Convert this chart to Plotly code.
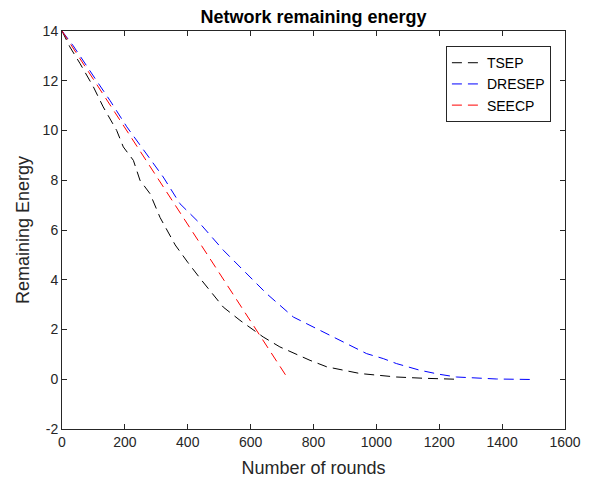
import plotly.graph_objects as go

tsep_x = [0, 25, 57, 100, 131, 174, 195, 227, 248, 280, 312, 360, 400, 444, 513, 566, 640, 693, 789, 842, 948, 1064, 1150, 1255]
tsep_y = [14, 13.36, 12.7, 11.75, 10.95, 10.0, 9.34, 8.8, 8.0, 7.46, 6.5, 5.4, 4.7, 3.98, 2.9, 2.37, 1.7, 1.3, 0.76, 0.5, 0.23, 0.09, 0.04, 0.0]

dresep_x = [0, 36, 110, 153, 206, 269, 322, 375, 417, 439, 513, 577, 651, 736, 842, 969, 1022, 1064, 1139, 1200, 1255, 1320, 1383, 1440, 1498]
dresep_y = [14, 13.4, 12.0, 11.2, 10.15, 9.07, 8.13, 7.06, 6.52, 6.26, 5.19, 4.38, 3.44, 2.5, 1.83, 1.03, 0.83, 0.63, 0.36, 0.2, 0.09, 0.04, 0.01, 0.0, -0.01]

seecp_x = [0, 720]
seecp_y = [14, 0]

x_ticks = [0, 200, 400, 600, 800, 1000, 1200, 1400, 1600]
y_ticks = [-2, 0, 2, 4, 6, 8, 10, 12, 14]
y_tick_text = ["-2", "0", "2", "4", "6", "8", "10", "12", "14"]

fig = go.Figure()
dash = "10px,6px"
fig.add_trace(go.Scatter(x=tsep_x, y=tsep_y, mode="lines", name="TSEP",
                         line=dict(color="black", width=1, dash=dash)))
fig.add_trace(go.Scatter(x=dresep_x, y=dresep_y, mode="lines", name="DRESEP",
                         line=dict(color="blue", width=1, dash=dash)))
fig.add_trace(go.Scatter(x=seecp_x, y=seecp_y, mode="lines", name="SEECP",
                         line=dict(color="red", width=1, dash=dash)))

axis_common = dict(showgrid=False, zeroline=False, showline=True, linecolor="#262626",
                   linewidth=1, mirror="allticks", ticks="inside", ticklen=5,
                   tickcolor="#262626", tickfont=dict(size=14, color="#262626"),
                   automargin=False)

fig.update_layout(
    width=585, height=471,
    paper_bgcolor="white", plot_bgcolor="white",
    font=dict(family="Liberation Sans, Arial, sans-serif", color="#262626"),
    margin=dict(l=54, r=28, t=23, b=50),
    title=dict(text="<b>Network remaining energy</b>", x=0.5, xanchor="center",
               xref="paper",
               y=1 - 9/471, yanchor="middle", font=dict(size=18, color="black")),
    xaxis=dict(range=[0, 1600], tickvals=x_ticks,
               title=dict(text="Number of rounds", font=dict(size=18), standoff=12),
               **axis_common),
    yaxis=dict(range=[-2, 14], tickvals=y_ticks, ticktext=y_tick_text,
               title=dict(text="Remaining Energy", font=dict(size=18), standoff=8),
               **axis_common),
    legend=dict(x=0.972, y=0.962, xanchor="right", yanchor="top",
                bordercolor="#262626", borderwidth=1, bgcolor="white",
                font=dict(size=14, color="black"), tracegroupgap=0),
    showlegend=True,
)

fig.write_html("out.html")
